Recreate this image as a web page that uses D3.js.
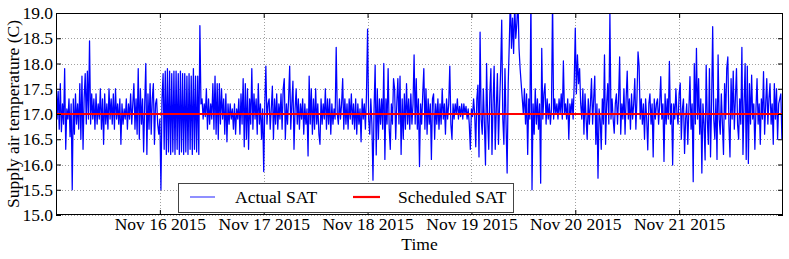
<!DOCTYPE html>
<html><head><meta charset="utf-8">
<script src="https://cdn.jsdelivr.net/npm/d3@7"></script>
<style>
body{margin:0;background:#fff}
svg{display:block}
text{font-family:"Liberation Serif","Times New Roman",serif;fill:#000}
</style>
</head><body>
<svg id="chart" width="789" height="259"></svg>
<script>
// ---- DATA (15-minute samples, 96 per day) ----
const dayStarts = ["2015-11-15","2015-11-16","2015-11-17","2015-11-18","2015-11-19","2015-11-20","2015-11-21"];
const satNov15 = [17.75,16.9,17.45,16.7,17.6,16.65,17.2,16.8, 17.9,16.3,17.1,16.9,17.3,16.55,17.2,15.5,
  17.3,16.6,17.4,16.8,17.2,16.7,17.6,16.5, 17.75,16.3,17.3,17.8,16.8,17.85,16.9,18.45,
  16.8,17.4,16.9,17.3,16.7,17.4,16.8,17.2, 16.9,17.5,16.7,17.3,16.4,17.4,16.8,17.2,
  16.7,17.5,16.9,17.3,16.8,17.4,16.7,17.5, 16.9,17.2,16.8,17.3,16.4,17.2,16.8,17.1,
  16.9,17.3,16.7,17.2,16.9,17.4,16.8,17.2, 17.6,16.7,17.3,16.6,17.9,16.5,17.5,16.8,
  17.3,16.25,17.2,18.0,16.2,17.4,16.7,17.6, 16.6,17.3,17.6,16.4,17.2,17.3,16.8,16.6];
const satNov16 = [16.9,15.5,17.3,17.8,16.3,17.85,16.2,17.9, 16.25,17.85,16.2,17.8,16.25,17.85,16.2,17.85,
  16.3,17.8,16.2,17.85,16.25,17.8,16.2,17.8, 16.25,17.75,16.2,17.8,16.3,17.75,16.2,17.9,
  16.3,17.75,16.25,17.75,16.2,18.75,17.2,17.3, 16.9,17.2,16.95,17.5,16.7,17.3,16.8,17.2,
  16.9,17.6,16.7,17.75,16.6,17.6,16.5,17.6, 16.8,17.5,16.9,17.3,16.6,17.4,16.45,17.2,
  16.8,17.2,16.9,17.1,16.7,17.2,16.6,17.1, 16.9,17.3,16.6,17.4,16.8,17.7,16.35,17.6,
  16.5,17.5,16.3,17.3,16.8,17.9,16.7,17.4, 16.9,17.3,16.6,17.6,16.8,17.2,16.5,17.1];
const satNov17 = [15.86,17.2,17.95,16.8,17.2,17.3,16.7,17.1, 17.55,16.5,17.3,16.8,17.4,16.7,17.2,16.9,
  17.4,16.7,17.5,17.7,16.5,17.2,16.8,17.3, 17.95,16.7,17.2,17.65,16.3,17.1,17.5,16.8,
  17.3,16.7,17.2,16.9,17.3,16.6,17.2,16.8, 17.1,16.17,17.75,16.8,17.5,16.6,17.3,16.7,
  17.5,16.8,17.2,16.6,16.4,17.3,16.8,17.2, 16.9,17.5,16.7,17.3,16.8,17.3,16.6,17.2,
  16.8,17.1,16.9,18.32,17.0,16.8,17.3,16.9, 17.2,17.7,16.7,17.3,16.8,17.2,16.7,17.3,
  16.9,17.4,16.8,17.2,16.7,17.3,16.6,17.2, 16.8,17.1,16.45,17.3,16.9,17.2,16.7,17.4];
const satNov18 = [18.68,16.9,16.6,17.3,16.8,15.69,17.1,17.97, 16.19,17.5,16.5,17.3,16.8,17.3,16.7,18.0,
  16.1,17.3,16.8,17.9,16.7,16.3,17.2,16.8, 17.7,17.5,16.5,17.2,17.7,16.8,17.75,16.2,
  17.3,16.5,17.4,16.7,17.6,16.8,17.3,16.7, 17.4,16.8,17.2,18.17,16.8,17.7,16.7,17.3,
  15.96,17.2,16.8,17.4,17.9,16.7,17.5,16.6, 17.3,16.8,17.2,16.1,17.3,17.4,16.5,17.2,
  16.8,17.3,16.7,17.2,16.8,17.5,16.9,17.2, 16.6,17.3,16.9,17.2,17.95,16.8,16.5,17.2,
  16.9,17.2,17.0,17.3,16.9,17.15,16.95,17.2, 16.9,17.2,17.0,17.15,16.9,17.1,16.8,16.3];
const satNov19 = [17.1,16.95,17.3,17.0,16.35,17.3,17.57,16.15, 18.62,16.9,16.6,17.5,16.8,15.99,18.0,16.9,
  16.3,17.4,17.9,16.2,17.2,17.95,16.3,17.1, 17.8,16.4,17.2,17.85,18.86,16.9,16.4,17.9,
  16.8,15.83,17.6,18.4,19.3,18.3,18.9,18.2, 19.2,18.5,18.8,19.3,18.3,17.9,17.6,17.3,
  17.0,17.5,16.8,17.4,16.2,17.3,16.9,19.3, 15.5,17.2,16.6,17.5,16.8,17.3,16.7,17.2,
  15.63,18.3,16.9,17.4,17.6,16.8,17.3,16.9, 17.2,16.8,17.1,19.3,16.9,17.3,17.0,17.2,
  16.9,17.3,17.0,17.4,16.9,18.05,17.0,17.2, 16.9,17.3,16.5,17.2,17.0,17.3,16.9,17.6];
const satNov20 = [18.7,17.4,18.17,17.6,17.9,17.2,16.9,17.5, 16.6,17.4,16.9,16.5,17.3,16.8,17.2,17.7,
  16.8,17.3,17.75,16.4,17.2,15.73,17.1,16.9, 16.3,17.3,16.8,18.17,16.4,17.2,17.6,16.8,
  18.99,16.9,17.3,16.9,16.62,17.2,17.4,16.8, 17.3,18.13,16.6,17.2,16.9,17.5,16.6,17.3,
  17.85,16.9,17.3,16.7,17.4,16.9,17.2,17.7, 16.7,17.3,18.23,17.95,16.9,17.3,16.8,17.2,
  16.5,17.3,16.9,16.29,17.2,17.4,16.8,17.2, 16.15,17.3,16.9,17.2,17.3,16.8,17.2,17.74,
  16.9,17.2,16.06,17.4,16.8,17.3,16.9,18.04, 16.8,17.2,15.99,17.2,16.9,17.5,17.0,16.8];
const satNov21 = [17.4,17.61,16.5,17.1,17.3,16.22,16.9,17.2, 16.4,17.1,17.74,16.7,17.2,15.66,18.0,16.8,
  18.3,16.9,17.7,16.6,17.3,15.83,17.2,16.8, 16.09,17.97,16.9,16.4,17.9,16.15,17.2,18.73,
  16.9,16.5,17.3,16.1,18.17,16.9,16.6,17.4, 16.8,16.2,17.6,16.9,17.9,18.13,16.8,16.15,
  17.7,16.9,17.85,16.7,17.3,17.9,16.8,16.5, 17.3,16.8,18.32,16.2,17.2,18.0,16.1,17.95,
  16.02,17.6,16.8,17.77,16.9,17.2,16.3,17.1, 17.7,16.8,17.2,16.4,17.3,16.9,17.84,16.6,
  17.2,17.7,16.8,17.3,17.6,16.8,17.2,16.4, 17.6,16.9,17.5,16.5,17.2,17.3,17.4,16.5];
const scheduledSAT = 17.0;
const xTickDates = ["2015-11-16","2015-11-17","2015-11-18","2015-11-19","2015-11-20","2015-11-21"];
const yTicks = [15.0,15.5,16.0,16.5,17.0,17.5,18.0,18.5,19.0];
const xDomain = ["2015-11-15","2015-11-22"];
const seriesNames = ["Actual SAT","Scheduled SAT"];

// ---- BUILD ----
const dayArrays = [satNov15,satNov16,satNov17,satNov18,satNov19,satNov20,satNov21];
const parse = d3.utcParse("%Y-%m-%d");
const actual = [];
dayArrays.forEach((arr, d) => {
  const t0 = parse(dayStarts[d]);
  arr.forEach((v, i) => actual.push({t: d3.utcMinute.offset(t0, i * 15), v}));
});

const FS = 17.5;
const m = {l: 56, r: 783, t: 13, b: 215};
const svg = d3.select("#chart");
const x = d3.scaleUtc().domain(xDomain.map(parse)).range([m.l, m.r]);
const y = d3.scaleLinear().domain([15, 19]).range([m.b, m.t]);

svg.append("defs").append("clipPath").attr("id","clip")
  .append("rect").attr("x", m.l).attr("y", m.t).attr("width", m.r - m.l).attr("height", m.b - m.t);

// grid
const grid = svg.append("g").attr("stroke","#a0a0a0").attr("stroke-width",1).attr("stroke-dasharray","1,2");
xTickDates.map(parse).forEach(d => {
  grid.append("line").attr("x1", Math.round(x(d))+0.5).attr("x2", Math.round(x(d))+0.5).attr("y1", m.t).attr("y2", m.b);
});
yTicks.forEach(v => {
  grid.append("line").attr("x1", m.l).attr("x2", m.r).attr("y1", Math.round(y(v))+0.5).attr("y2", Math.round(y(v))+0.5);
});

// data
const plot = svg.append("g").attr("clip-path","url(#clip)");
plot.append("path").datum(actual)
  .attr("fill","none").attr("stroke","#0000ff").attr("stroke-width",1.25).attr("stroke-linejoin","round")
  .attr("d", d3.line().x(d => x(d.t)).y(d => y(d.v)));
plot.append("path").datum(x.domain().map(t => ({t, v: scheduledSAT})))
  .attr("fill","none").attr("stroke","#ff0000").attr("stroke-width",2.2)
  .attr("d", d3.line().x(d => x(d.t)).y(d => y(d.v)));

// axes
const fmt = d3.utcFormat("%b %d %Y");
const xb = svg.append("g").attr("transform",`translate(0,${m.b})`)
  .call(d3.axisBottom(x).tickValues(xTickDates.map(parse)).tickFormat(fmt).tickSize(-5).tickPadding(3));
const xt = svg.append("g").attr("transform",`translate(0,${m.t})`)
  .call(d3.axisTop(x).tickValues(xTickDates.map(parse)).tickFormat("").tickSize(-5));
const yl = svg.append("g").attr("transform",`translate(${m.l},0)`)
  .call(d3.axisLeft(y).tickValues(yTicks).tickFormat(d3.format(".1f")).tickSize(-5).tickPadding(3));
const yr = svg.append("g").attr("transform",`translate(${m.r},0)`)
  .call(d3.axisRight(y).tickValues(yTicks).tickFormat("").tickSize(-5));
[xb,xt,yl,yr].forEach(g => {
  g.attr("font-family",'"Liberation Serif",serif').attr("font-size",FS);
  g.select(".domain").remove();
  g.selectAll(".tick line").attr("stroke","#000");
  g.selectAll("text").attr("fill","#000");
});

// frame
svg.append("rect").attr("x", m.l+0.5).attr("y", m.t+0.5).attr("width", m.r - m.l - 1).attr("height", m.b - m.t - 1)
  .attr("fill","none").attr("stroke","#000").attr("stroke-width",1);

// axis titles
svg.append("text").attr("x", (m.l + m.r)/2).attr("y", 250).attr("text-anchor","middle").attr("font-size",FS).text("Time");
svg.append("text").attr("transform",`translate(19,${(m.t+m.b)/2}) rotate(-90)`).attr("text-anchor","middle").attr("font-size",FS)
  .text("Supply air temperature (C)");

// legend
const lg = svg.append("g");
lg.append("rect").attr("x",178.5).attr("y",183.5).attr("width",335).attr("height",29)
  .attr("fill","#fff").attr("stroke","#444").attr("stroke-width",1);
lg.append("line").attr("x1",190).attr("x2",215).attr("y1",197).attr("y2",197).attr("stroke","#6a6aff").attr("stroke-width",1.5);
lg.append("text").attr("x",235).attr("y",203).attr("font-size",FS).text(seriesNames[0]);
lg.append("line").attr("x1",353).attr("x2",380).attr("y1",197).attr("y2",197).attr("stroke","#ff0000").attr("stroke-width",2.2);
lg.append("text").attr("x",398).attr("y",203).attr("font-size",FS).text(seriesNames[1]);
</script>
</body></html>
